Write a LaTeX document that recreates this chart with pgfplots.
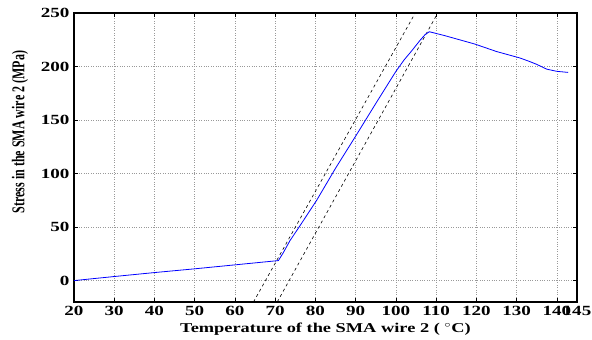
\documentclass[border=0pt]{standalone}
\usepackage{pgfplots}
\pgfplotsset{compat=1.18}
\usepackage{fontspec}
\usepackage{graphicx}
\setmainfont{Liberation Serif}
\begin{document}
\begin{tikzpicture}
\begin{axis}[
  scale only axis,
  width=503pt, height=289pt,
  xmin=20, xmax=145, ymin=-20, ymax=250,
  xtick={20,30,40,50,60,70,80,90,100,110,120,130,140,145},
  ytick={0,50,100,150,200,250},
  xticklabel={\scalebox{1.36}[1]{\fontsize{14}{14}\selectfont\bfseries\pgfmathprintnumber[assume math mode=true]{\tick}}},
  yticklabel={\scalebox{1.36}[1]{\fontsize{14}{14}\selectfont\bfseries\pgfmathprintnumber[assume math mode=true]{\tick}}},
  tick align=inside,
  tick pos=both,
  major tick length=4pt,
  axis line style={line width=1.1pt},
  every tick/.style={black, line width=0.6pt},
  grid=major,
  major grid style={gray!80, dotted, line width=0.7pt},
  xticklabel style={yshift=-1pt},
  yticklabel style={xshift=-1pt},
  xlabel={\scalebox{1.36}[1]{\fontsize{13.5}{14}\selectfont\bfseries Temperature of the SMA wire 2 ( $^{\circ}$C)}},
  xlabel style={at={(axis description cs:0.5,0)}, anchor=center, yshift=-27.5pt},
  ylabel={\scalebox{1}[1.5]{\fontsize{12}{12}\selectfont\bfseries Stress in the SMA wire 2 (MPa)}},
  ylabel style={at={(axis description cs:-0.1074,0.588)}, anchor=center},
  clip=true,
]
\addplot[black, dashed, line width=0.6pt] coordinates {(64.6,-20) (104.8,250)};
\addplot[black, dashed, line width=0.6pt] coordinates {(70.5,-20) (110.4,250)};
\addplot[blue, line width=0.8pt] coordinates {
(20,0) (30,3.8) (40,7.5) (50,11) (60,14.7) (70.8,18.7)
(72,26) (73.7,37.5) (76.2,51.5) (80.3,75) (85,105) (90,135)
(95,165.5) (100,195.5) (102,206) (104,215) (106,224.5) (107.3,230)
(108.3,232.5) (112,229) (119.6,221) (125,214) (130.8,208)
(133,205) (135,202) (137.5,197.5) (140,195.5) (142.8,194.5)};
\end{axis}
\pgfresetboundingbox
\path (current axis.south west) ++(-74pt,-38pt) coordinate (bl);
\path (current axis.north east) ++(15pt,13pt) coordinate (tr);
\path[use as bounding box] (bl) rectangle (tr);
\end{tikzpicture}
\end{document}
